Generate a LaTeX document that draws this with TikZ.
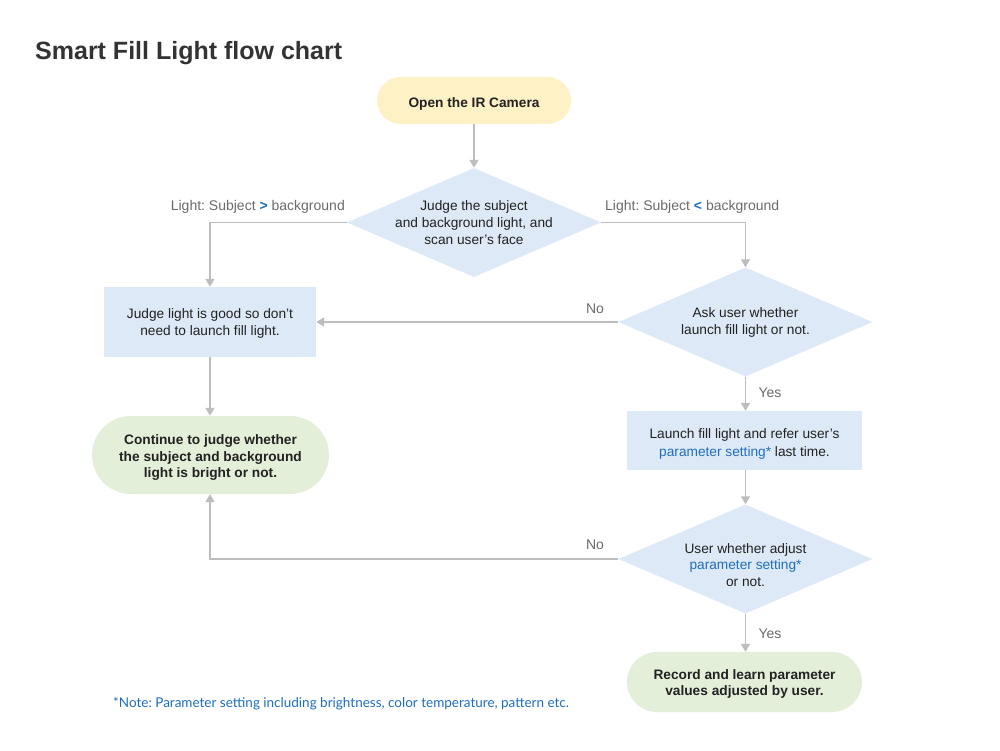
\documentclass[tikz,border=0pt]{standalone}
\usepackage{fontspec}
\setmainfont{Liberation Sans}
\newfontfamily\notefont{Lato}
\usetikzlibrary{shapes.geometric,arrows.meta}
\definecolor{boxblue}{HTML}{DDE9F6}
\definecolor{pillyellow}{HTML}{FFF1C6}
\definecolor{pillgreen}{HTML}{E3EFD9}
\definecolor{linegray}{HTML}{BDBDBD}
\definecolor{labelgray}{HTML}{6B6B6B}
\definecolor{textdark}{HTML}{222222}
\definecolor{titlegray}{HTML}{333333}
\definecolor{linkblue}{HTML}{1E6EBF}
\frenchspacing
\begin{document}
\begin{tikzpicture}[x=1pt,y=-1pt,
 base/.style={font=\fontsize{13.7}{16.8}\selectfont, text=textdark, align=center, inner sep=0pt},
 boldtext/.style={base, font=\bfseries\fontsize{13.7}{16.8}\selectfont},
 decision/.style={diamond, fill=boxblue, inner sep=0pt, minimum width=254pt, minimum height=109pt},
 process/.style={rectangle, fill=boxblue, inner sep=0pt},
 pill/.style={rectangle, inner sep=0pt},
 conn/.style={draw=linegray, line width=1.6pt, -{Triangle[width=9pt,length=8pt]}},
 lbl/.style={font=\fontsize{14}{16}\selectfont, text=labelgray, inner sep=0pt}
]
\useasboundingbox[fill=white] (0,0) rectangle (1000,750);
\node[anchor=base west, inner sep=0pt, text=titlegray, font=\bfseries\fontsize{25}{28}\selectfont] (title) at (35,59) {Smart Fill Light flow chart};

% shapes
\node[pill, fill=pillyellow, minimum width=194pt, minimum height=47pt, rounded corners=23.5pt] (start) at (474,100.5) {};
\node[decision] (d1) at (474,222.5) {};
\node[process, minimum width=212pt, minimum height=70pt] (r1) at (210,322) {};
\node[decision] (d2) at (745.5,322) {};
\node[process, minimum width=235pt, minimum height=59pt] (r2) at (744.5,440.5) {};
\node[decision] (d3) at (745.5,559) {};
\node[pill, fill=pillgreen, minimum width=237pt, minimum height=78pt, rounded corners=39pt] (p2) at (210.5,455) {};
\node[pill, fill=pillgreen, minimum width=235pt, minimum height=60pt, rounded corners=30pt] (p3) at (744.5,682) {};

% texts
\node[boldtext, yshift=-3pt] (startt) at (start.center) {Open the IR Camera};
\node[base] (d1t) at (d1.center) {Judge the subject\\and background light, and\\scan user's face};
\node[base, yshift=-1.5pt] (r1t) at (r1.center) {Judge light is good so don’t\\need to launch fill light.};
\node[base, yshift=-0.5pt] (d2t) at (d2.center) {Ask user whether\\launch fill light or not.};
\node[base, yshift=-3.5pt, font=\fontsize{13.7}{17.6}\selectfont] (r2t) at (r2.center) {Launch fill light and refer user’s\\\textcolor{linkblue}{parameter setting*} last time.};
\node[base, yshift=-6pt] (d3t) at (d3.center) {User whether adjust\\\textcolor{linkblue}{parameter setting*}\\or not.};
\node[boldtext, yshift=-2.5pt] (p2t) at (p2.center) {Continue to judge whether\\the subject and background\\light is bright or not.};
\node[boldtext, yshift=-2pt] (p3t) at (p3.center) {Record and learn parameter\\values adjusted by user.};

% connectors
\draw[conn] (start.south) -- (start.south |- d1.north);
\draw[conn] (d1.west) -| (r1.north);
\draw[conn] (d1.east) -| (d2.north);
\draw[conn] (d2.west) -- (d2.west -| r1.east);
\draw[conn] (d2.south) -- (d2.south |- r2.north);
\draw[conn] (d2.south |- r2.south) -- (d3.north);
\draw[conn] (r1.south) -- (r1.south |- p2.north);
\draw[conn] (d3.west) -| (r1.south |- p2.south);
\draw[conn] (d3.south) -- (d3.south |- p3.north);

% labels
\node[lbl, anchor=east] (l1) at (345,207) {Light: Subject \textcolor{linkblue}{\textbf{>}} background};
\node[lbl, anchor=west] (l2) at (605,207) {Light: Subject \textcolor{linkblue}{\textbf{<}} background};
\node[lbl] (no1) at (595,309) {No};
\node[lbl] (yes1) at (770,393) {Yes};
\node[lbl] (no2) at (595,545) {No};
\node[lbl] (yes2) at (770,634) {Yes};
\node[anchor=west, inner sep=0pt, text=linkblue, font=\notefont\fontsize{13.5}{16}\selectfont] (note) at (113,703.5) {*Note: Parameter setting including brightness, color temperature, pattern etc.};
\end{tikzpicture}
\end{document}
